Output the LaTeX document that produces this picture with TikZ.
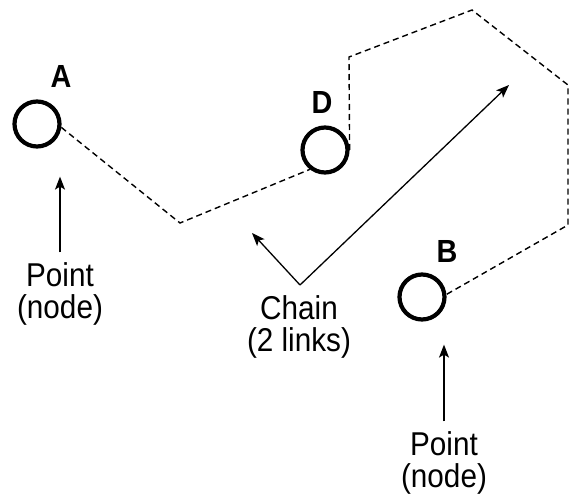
\documentclass[tikz,border=0pt]{standalone}
\usepackage{fontspec}
\setmainfont[FakeStretch=0.9]{Liberation Sans}
\usetikzlibrary{arrows.meta}

\begin{document}
\begin{tikzpicture}[x=1pt, y=-1pt,
    point/.style={circle, draw, line width=4.2pt, minimum size=45pt, inner sep=0pt},
    tag/.style={font=\fontsize{32}{34}\selectfont\bfseries},
    caption/.style={align=center, inner sep=2pt, font=\fontsize{33}{32}\selectfont},
    link/.style={dash pattern=on 6pt off 4pt, line width=1.4pt},
    pointer/.style={-{Stealth[length=13pt, width=10pt, inset=3pt]}, line width=1.3pt}]
  \useasboundingbox (0,0) rectangle (571,495);
  % the points
  \node[point] (A) at (37,124) {};
  \node[point] (D) at (325,150) {};
  \node[point] (B) at (422,297) {};
  \node[tag] (labA) at (61,76) {A};
  \node[tag] (labD) at (322,102) {D};
  \node[tag] (labB) at (447,251) {B};
  % the chain between them
  \coordinate (k1) at (180,223);
  \coordinate (k2) at (349,57);
  \coordinate (k3) at (472,10);
  \coordinate (k4) at (568,85);
  \coordinate (k5) at (568,225);
  \draw[link] (A.-8) -- (k1) -- (D.-128);
  \draw[link] (D.east) -- (k2) -- (k3) -- (k4) -- (k5) -- (B.6);
  % captions
  \node[caption] (ptA) at (60,294) {Point\\(node)};
  \node[caption] (ptB) at (444,463) {Point\\(node)};
  \node[caption] (chain) at (299,327) {Chain\\(2 links)};
  \coordinate (fork) at (300,285);
  \coordinate (endL) at (252,233);
  \coordinate (endR) at (509,85);
  \draw[pointer, shorten <=8pt, shorten >=28pt] (ptA.north) -- (ptA.north |- A.south);
  \draw[pointer, shorten <=8pt, shorten >=23pt] (ptB.north) -- (ptB.north |- B.south);
  \draw[pointer] (fork) -- (endL);
  \draw[pointer] (fork) -- (endR);
\end{tikzpicture}
\end{document}
